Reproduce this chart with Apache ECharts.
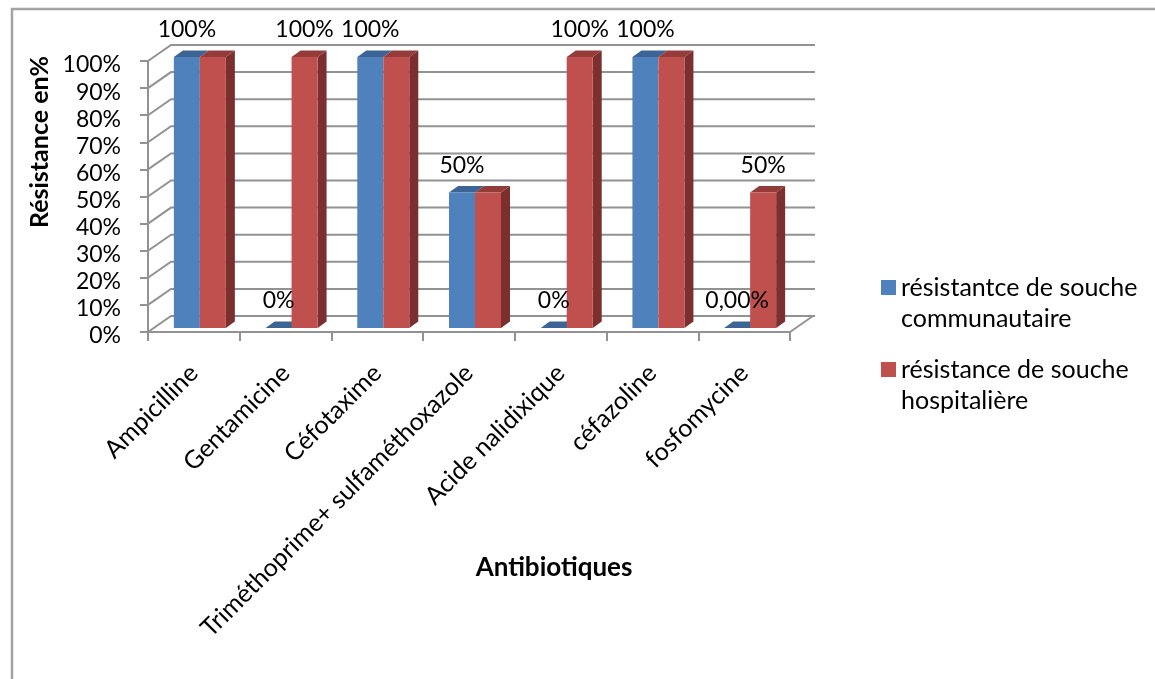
<!DOCTYPE html>
<html lang="fr">
<head>
<meta charset="utf-8">
<title>Résistance aux antibiotiques</title>
<style>html,body{margin:0;padding:0;background:#fff}#chart{width:1155px;height:679px}</style>
<script src="https://cdn.jsdelivr.net/npm/echarts@6/dist/echarts.min.js"></script>
</head>
<body>
<div id="chart"></div>
<script>
// Taux de résistance (%) par antibiotique
const categories = ['Ampicilline', 'Gentamicine', 'Céfotaxime', 'Triméthoprime+ sulfaméthoxazole', 'Acide nalidixique', 'céfazoline', 'fosfomycine'];
const communityValues = [100, 0, 100, 50, 0, 100, 0];
const hospitalValues = [100, 100, 100, 50, 100, 100, 50];
const communityLabels = ['100%', '0%', '100%', '50%', '0%', '100%', '0,00%'];
const hospitalLabels = ['', '100%', '', '', '100%', '', '50%'];
const yTicks = [0, 10, 20, 30, 40, 50, 60, 70, 80, 90, 100];
const communityName = 'résistantce de souche\ncommunautaire';
const hospitalName = 'résistance de souche\nhospitalière';

const FONT = 'Lato, "Noto Sans", sans-serif';
const GRID_COLOR = '#929292';
const WALL_DX = 23, WALL_DY = -16;   // décalage du mur du fond
const BAR_W = 26;
const BAR_DX = 6, BAR_DY = -4;       // position des barres dans la profondeur
const TOP_DX = 9, TOP_DY = -6.5;     // épaisseur apparente des barres

// Barre en fausse 3D : face avant, dessus et flanc droit
function bar3d(side, front, top, flank) {
  return function (params, api) {
    const p = api.coord([api.value(0), api.value(1)]);
    const base = api.coord([api.value(0), 0]);
    const x0 = p[0] + BAR_DX + (side === 0 ? -BAR_W : 0);
    const x1 = x0 + BAR_W;
    const yT = p[1] + BAR_DY, yB = base[1] + BAR_DY;
    const children = [];
    if (flank) {
      children.push({ type: 'polygon', shape: { points: [[x1, yT], [x1 + TOP_DX, yT + TOP_DY], [x1 + TOP_DX, yB + TOP_DY], [x1, yB]] }, style: { fill: flank } });
    }
    children.push({ type: 'polygon', shape: { points: [[x0, yT], [x0 + TOP_DX, yT + TOP_DY], [x1 + TOP_DX, yT + TOP_DY], [x1, yT]] }, style: { fill: top } });
    children.push({ type: 'rect', shape: { x: x0, y: yT, width: BAR_W, height: yB - yT }, style: { fill: front } });
    return { type: 'group', children };
  };
}

// Lignes de quadrillage : diagonale du mur gauche puis horizontale du fond
function renderWall(params, api) {
  const cs = params.coordSys;
  const y = api.coord([0, api.value(1)])[1];
  const pts = [[cs.x, y], [cs.x + WALL_DX, y + WALL_DY], [cs.x + cs.width + WALL_DX + 2, y + WALL_DY]];
  return { type: 'polyline', shape: { points: pts }, style: { fill: 'none', stroke: GRID_COLOR, lineWidth: 2 } };
}

// Bord droit du plancher
function renderFloorEdge(params, api) {
  const cs = params.coordSys;
  const y = cs.y + cs.height;
  const x = cs.x + cs.width;
  return { type: 'line', shape: { x1: x, y1: y, x2: x + WALL_DX, y2: y + WALL_DY }, style: { stroke: GRID_COLOR, lineWidth: 2 } };
}

// Étiquettes de valeur au-dessus des colonnes
const labelData = [];
categories.forEach((c, i) => {
  if (communityLabels[i]) labelData.push([i, communityValues[i], communityLabels[i], 0]);
  if (hospitalLabels[i]) labelData.push([i, hospitalValues[i], hospitalLabels[i], 1]);
});
function renderLabel(params, api) {
  const row = labelData[params.dataIndex];
  const p = api.coord([row[0], row[1]]);
  const cx = p[0] + BAR_DX + (row[3] === 0 ? -BAR_W / 2 : BAR_W / 2);
  return {
    type: 'text',
    style: { x: cx, y: p[1] + BAR_DY - 27, text: row[2], fill: '#000', font: '23px ' + FONT, textAlign: 'center', textVerticalAlign: 'middle' }
  };
}

const option = {
  backgroundColor: '#fff',
  animation: false,
  textStyle: { fontFamily: FONT },
  grid: { left: 148, top: 61, width: 642, height: 271, containLabel: false },
  xAxis: {
    type: 'category',
    data: categories,
    axisLine: { show: true, lineStyle: { color: GRID_COLOR, width: 2 } },
    axisTick: { show: true, length: 9, alignWithLabel: false, lineStyle: { color: GRID_COLOR, width: 2 } },
    axisLabel: { interval: 0, rotate: 45, color: '#000', fontSize: 25, fontFamily: FONT, margin: 37 },
    splitLine: { show: false }
  },
  yAxis: {
    type: 'value', min: 0, max: 100, interval: 10,
    axisLine: { show: true, lineStyle: { color: GRID_COLOR, width: 2 } },
    axisTick: { show: true, length: 8, lineStyle: { color: GRID_COLOR, width: 2 } },
    axisLabel: { formatter: '{value}%', color: '#000', fontSize: 23, fontFamily: FONT, margin: 27, verticalAlign: 'top', lineHeight: 8 },
    splitLine: { show: false }
  },
  legend: {
    orient: 'vertical', left: 881, top: 272, padding: 0,
    itemWidth: 15, itemHeight: 46, itemGap: 20,
    icon: 'path://M0,0H15V15H0Z M0,46L0,46',
    selectedMode: false,
    data: [communityName, hospitalName],
    textStyle: { color: '#000', fontSize: 25, lineHeight: 31, fontFamily: FONT }
  },
  graphic: [
    { type: 'polyline', silent: true, z: 0, shape: { points: [[12, 679], [12, 9], [1155, 9]] }, style: { fill: 'none', stroke: '#a3a3a3', lineWidth: 2.5 } },
    { type: 'text', silent: true, x: 40, y: 142, rotation: Math.PI / 2, style: { text: 'Résistance en%', fill: '#000', font: 'bold 25px ' + FONT, textAlign: 'center', textVerticalAlign: 'middle' } },
    { type: 'text', silent: true, x: 554, y: 568, style: { text: 'Antibiotiques', fill: '#000', font: 'bold 26px ' + FONT, textAlign: 'center', textVerticalAlign: 'middle' } }
  ],
  series: [
    { name: 'quadrillage', type: 'custom', z: 1, silent: true, clip: false, renderItem: renderWall, encode: { x: 0, y: 1 }, data: yTicks.map(v => [0, v]) },
    { name: 'plancher', type: 'custom', z: 1, silent: true, clip: false, renderItem: renderFloorEdge, encode: { x: 0, y: 1 }, data: [[0, 0]] },
    { name: communityName, type: 'custom', z: 3, clip: false, itemStyle: { color: '#4f81bd' }, renderItem: bar3d(0, '#4f81bd', '#3c6494', null), encode: { x: 0, y: 1 }, data: communityValues.map((v, i) => [i, v]) },
    { name: hospitalName, type: 'custom', z: 4, clip: false, itemStyle: { color: '#c0504d' }, renderItem: bar3d(1, '#c0504d', '#933c3a', '#7b2f2e'), encode: { x: 0, y: 1 }, data: hospitalValues.map((v, i) => [i, v]) },
    { name: 'étiquettes', type: 'custom', z: 5, silent: true, clip: false, renderItem: renderLabel, encode: { x: 0, y: 1 }, data: labelData.map(r => [r[0], r[1]]) }
  ]
};

echarts.init(document.getElementById('chart'), null, { renderer: 'canvas' }).setOption(option);
</script>
</body>
</html>
